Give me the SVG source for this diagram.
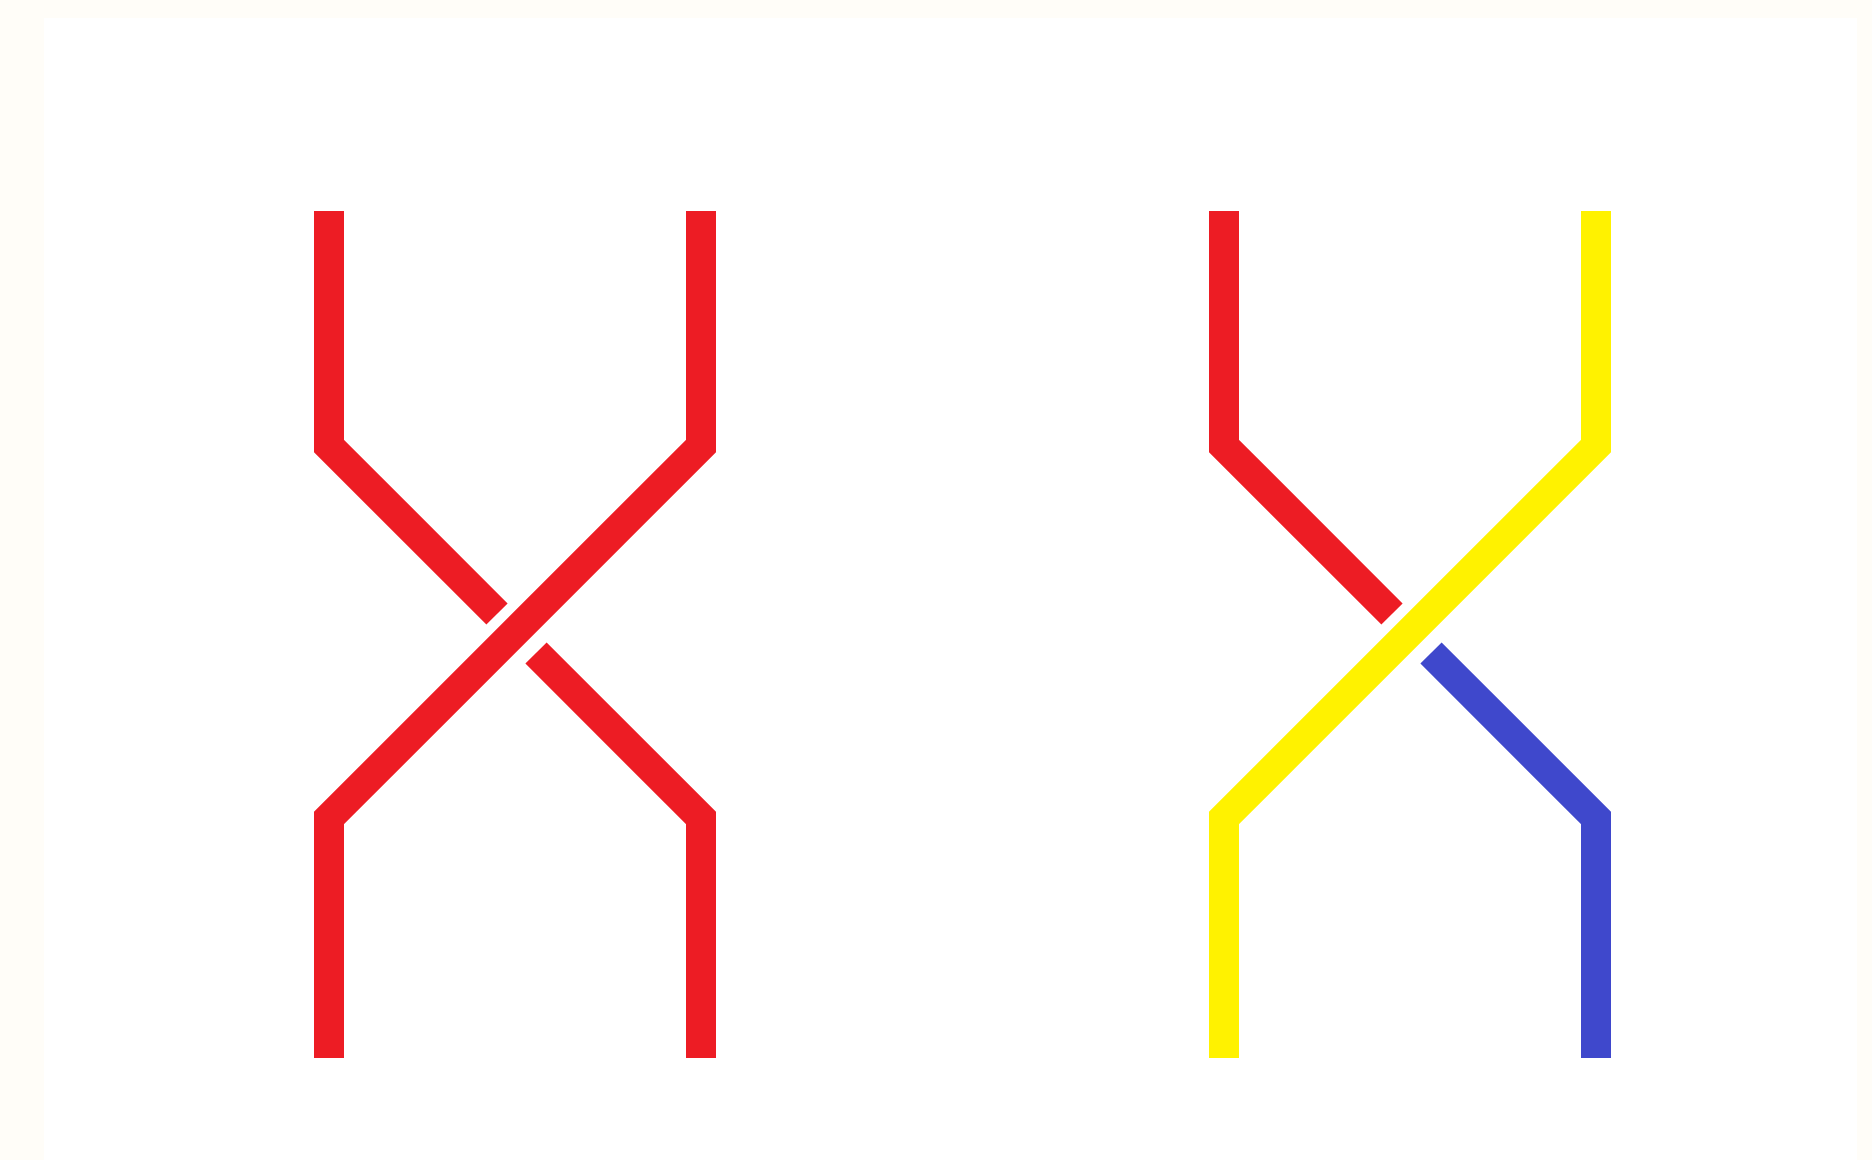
<svg xmlns="http://www.w3.org/2000/svg" width="1872" height="1160" viewBox="0 0 1872 1160">
<style>
.s{fill:none;stroke-width:30;stroke-linejoin:miter;stroke-linecap:butt}
.r{stroke:#ED1C24}
.y{stroke:#FFF200}
.b{stroke:#3F48CC}
</style>
<rect x="0" y="0" width="1872" height="1160" fill="#FFFDF8"/>
<rect x="44" y="18" width="1813" height="1142" fill="#FFFFFF"/>
<g id="connectors">
<g id="left-braid">
<path id="left-under-top" class="s r" d="M329,211 V446 L497,614"/>
<path id="left-under-bottom" class="s r" d="M536,653 L701,818 V1058"/>
<path id="left-over" class="s r" d="M701,211 V446 L329,818 V1058"/>
</g>
<g id="right-braid">
<path id="right-under-top" class="s r" d="M1224,211 V446 L1392,614"/>
<path id="right-under-bottom" class="s b" d="M1431,653 L1596,818 V1058"/>
<path id="right-over" class="s y" d="M1596,211 V446 L1224,818 V1058"/>
</g>
</g>
</svg>
